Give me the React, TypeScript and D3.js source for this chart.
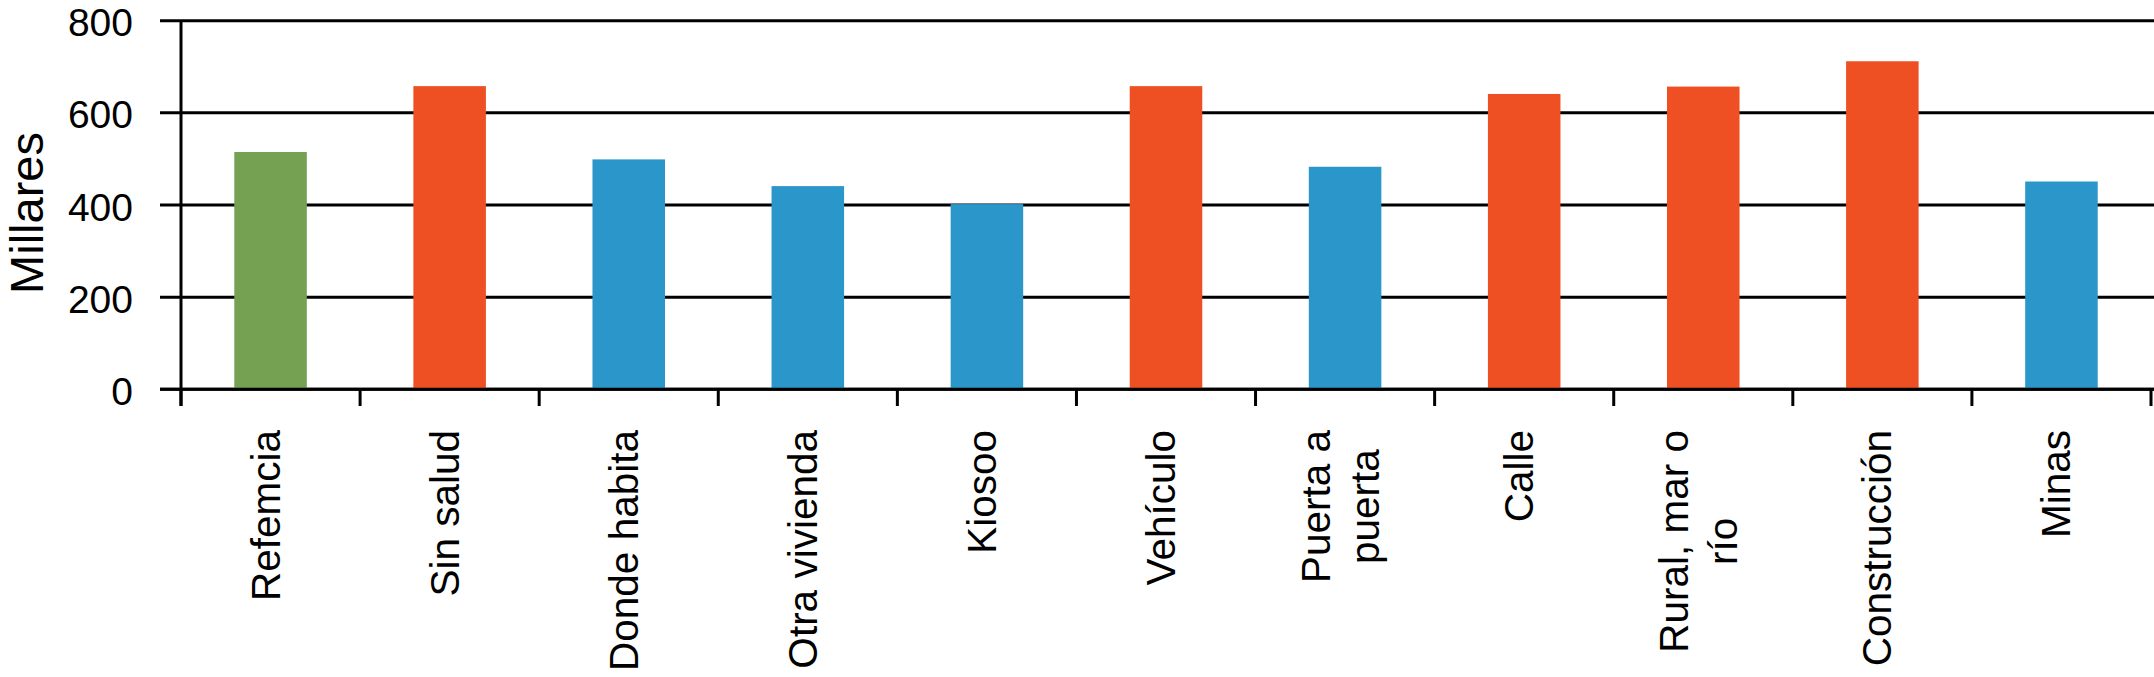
import React, { useEffect, useRef } from "react";
import * as d3 from "d3";

const categories: string[][] = [
  ["Refemcia"],
  ["Sin salud"],
  ["Donde habita"],
  ["Otra vivienda"],
  ["Kiosoo"],
  ["Vehículo"],
  ["Puerta a", "puerta"],
  ["Calle"],
  ["Rural, mar o", "río"],
  ["Construcción"],
  ["Minas"],
];
const values: number[] = [515, 658, 499, 441, 402, 658, 483, 641, 657, 712, 451];
const groups: string[] = ["ref", "high", "low", "low", "low", "high", "low", "high", "high", "high", "low"];
const yTicks: number[] = [0, 200, 400, 600, 800];
const yTitle = "Millares";

const colorMap: Record<string, string> = {
  ref: "#74A152",
  high: "#EF5023",
  low: "#2B96C9",
};

const W = 2154;
const H = 677;
const FONT = "'Liberation Sans', Arial, Helvetica, sans-serif";

export default function App() {
  const ref = useRef<SVGSVGElement | null>(null);

  useEffect(() => {
    const svg = d3.select(ref.current);
    svg.selectAll("*").remove();

    const x0 = 181;
    const x1 = 2151;
    const yBase = 389.3;
    const yTop = 20.7;

    const keys = categories.map((c) => c.join(" "));
    const x = d3.scaleBand<string>().domain(keys).range([x0, x1]).padding(0);
    const y = d3.scaleLinear().domain([0, 800]).range([yBase, yTop]);

    // gridlines + y tick labels
    const gy = svg.append("g");
    yTicks.forEach((t) => {
      gy.append("line")
        .attr("x1", 160)
        .attr("x2", W)
        .attr("y1", y(t))
        .attr("y2", y(t))
        .attr("stroke", "#000")
        .attr("stroke-width", 3);
      gy.append("text")
        .attr("x", 133)
        .attr("y", y(t) + 2)
        .attr("text-anchor", "end")
        .attr("dominant-baseline", "central")
        .attr("font-family", FONT)
        .attr("font-size", 39)
        .attr("fill", "#000")
        .text(d3.format("d")(t));
    });

    // bars
    const bw = x.bandwidth() * 0.405;
    svg
      .append("g")
      .selectAll("rect")
      .data(values)
      .join("rect")
      .attr("x", (_d, i) => (x(keys[i]) as number) + x.bandwidth() / 2 - bw / 2)
      .attr("y", (d) => y(d))
      .attr("width", bw)
      .attr("height", (d) => yBase - y(d))
      .attr("fill", (_d, i) => colorMap[groups[i]]);

    // axes lines
    svg
      .append("line")
      .attr("x1", x0)
      .attr("x2", x0)
      .attr("y1", yTop)
      .attr("y2", 406)
      .attr("stroke", "#000")
      .attr("stroke-width", 3);
    svg
      .append("line")
      .attr("x1", 160)
      .attr("x2", W)
      .attr("y1", yBase)
      .attr("y2", yBase)
      .attr("stroke", "#000")
      .attr("stroke-width", 3);

    // x ticks at band boundaries
    const bounds = keys.map((k) => x(k) as number).concat([x1]);
    svg
      .append("g")
      .selectAll("line")
      .data(bounds)
      .join("line")
      .attr("x1", (d) => d)
      .attr("x2", (d) => d)
      .attr("y1", yBase)
      .attr("y2", 406)
      .attr("stroke", "#000")
      .attr("stroke-width", 3);

    // category labels (rotated)
    const lineGap = 49;
    const labelTop = 430;
    categories.forEach((lines, i) => {
      const cx = (x(keys[i]) as number) + x.bandwidth() / 2;
      const n = lines.length;
      const texts = lines.map((ln, j) => {
        const bx = cx + 9 + (j - (n - 1) / 2) * lineGap;
        return svg
          .append("text")
          .attr("font-family", FONT)
          .attr("font-size", 40.5)
          .attr("fill", "#000")
          .attr("text-anchor", "middle")
          .attr("data-bx", bx)
          .text(ln);
      });
      let maxLen = 0;
      texts.forEach((t) => {
        const node = t.node() as SVGTextElement;
        maxLen = Math.max(maxLen, node.getComputedTextLength());
      });
      texts.forEach((t) => {
        const bx = +t.attr("data-bx");
        t.attr("transform", `translate(${bx},${labelTop + maxLen / 2}) rotate(-90)`);
      });
    });

    // y title
    svg
      .append("text")
      .attr("transform", `translate(42.7,213) rotate(-90)`)
      .attr("text-anchor", "middle")
      .attr("font-family", FONT)
      .attr("font-size", 47)
      .attr("fill", "#000")
      .text(yTitle);
  }, []);

  return (
    <svg
      ref={ref}
      width={W}
      height={H}
      style={{ position: "absolute", left: 0, top: 0, background: "#fff", display: "block" }}
    />
  );
}
